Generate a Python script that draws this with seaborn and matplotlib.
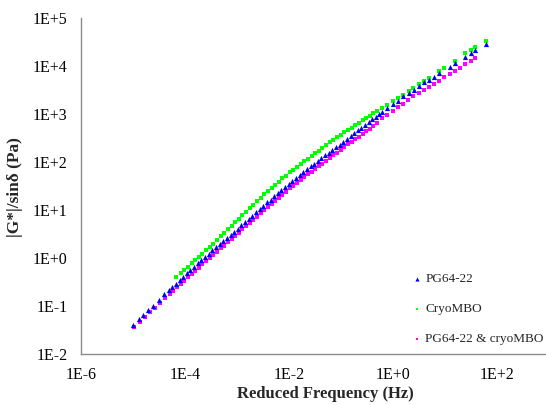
import numpy as np
import pandas as pd
import seaborn as sns
import matplotlib.pyplot as plt
from matplotlib.ticker import FuncFormatter, FixedLocator, LogLocator, NullFormatter

# values, stored as log10 (frequency in Hz, |G*|/sin(delta) in Pa)
pg_logf = [-5.00, -4.89, -4.80, -4.70, -4.61, -4.50, -4.39, -4.30, -4.24, -4.17,
           -4.10, -4.03, -3.96, -3.89, -3.82, -3.75, -3.68, -3.61, -3.54, -3.47,
           -3.40, -3.33, -3.26, -3.19, -3.12, -3.05, -2.98, -2.91, -2.84, -2.77,
           -2.70, -2.63, -2.56, -2.49, -2.42, -2.35, -2.28, -2.21, -2.14, -2.07,
           -2.00, -1.93, -1.86, -1.79, -1.72, -1.65, -1.58, -1.51, -1.44, -1.37,
           -1.30, -1.23, -1.16, -1.09, -1.02, -0.95, -0.88, -0.81, -0.74, -0.67,
           -0.60, -0.53, -0.46, -0.39, -0.32, -0.26, -0.20, -0.11, 0.01, 0.11,
           0.20, 0.31, 0.41, 0.50, 0.61, 0.70, 0.80, 0.89, 1.10, 1.20,
           1.40, 1.50, 1.59, 1.79]
pg_logg = [-1.40, -1.28, -1.19, -1.08, -0.99, -0.87, -0.76, -0.67, -0.61, -0.54,
           -0.46, -0.39, -0.32, -0.25, -0.18, -0.11, -0.05, 0.02, 0.09, 0.16,
           0.22, 0.29, 0.35, 0.42, 0.48, 0.54, 0.61, 0.68, 0.75, 0.81,
           0.88, 0.95, 1.02, 1.09, 1.16, 1.22, 1.29, 1.35, 1.42, 1.48,
           1.55, 1.61, 1.67, 1.73, 1.79, 1.85, 1.91, 1.97, 2.03, 2.08,
           2.14, 2.20, 2.25, 2.31, 2.36, 2.42, 2.48, 2.54, 2.60, 2.66,
           2.72, 2.78, 2.83, 2.89, 2.95, 3.00, 3.05, 3.12, 3.21, 3.28,
           3.37, 3.44, 3.50, 3.59, 3.66, 3.71, 3.77, 3.85, 3.99, 4.06,
           4.20, 4.27, 4.34, 4.46]

cryo_logf = [-4.17, -4.08, -4.01, -3.94, -3.87, -3.80, -3.73, -3.66, -3.59, -3.52,
             -3.45, -3.38, -3.31, -3.24, -3.17, -3.10, -3.03, -2.96, -2.89, -2.82,
             -2.75, -2.68, -2.61, -2.54, -2.47, -2.40, -2.33, -2.26, -2.19, -2.12,
             -2.05, -1.98, -1.91, -1.84, -1.77, -1.70, -1.63, -1.56, -1.49, -1.42,
             -1.35, -1.28, -1.21, -1.14, -1.07, -1.00, -0.93, -0.86, -0.79, -0.72,
             -0.65, -0.58, -0.51, -0.44, -0.37, -0.30, -0.20, -0.11, 0.01, 0.11,
             0.20, 0.31, 0.39, 0.50, 0.60, 0.70, 0.89, 0.99, 1.20, 1.39,
             1.50, 1.59, 1.79]
cryo_logg = [-0.39, -0.31, -0.25, -0.18, -0.11, -0.04, 0.03, 0.09, 0.16, 0.23,
             0.30, 0.37, 0.45, 0.52, 0.60, 0.67, 0.75, 0.82, 0.89, 0.97,
             1.04, 1.11, 1.19, 1.26, 1.33, 1.39, 1.46, 1.52, 1.59, 1.66,
             1.72, 1.79, 1.84, 1.90, 1.96, 2.02, 2.07, 2.13, 2.19, 2.24,
             2.30, 2.35, 2.41, 2.46, 2.52, 2.57, 2.62, 2.67, 2.72, 2.77,
             2.82, 2.87, 2.92, 2.97, 3.02, 3.06, 3.12, 3.19, 3.28, 3.34,
             3.40, 3.49, 3.54, 3.62, 3.69, 3.75, 3.90, 3.97, 4.11, 4.27,
             4.34, 4.39, 4.53]

blend_logf = [-4.97, -4.87, -4.77, -4.67, -4.58, -4.48, -4.38, -4.29, -4.22, -4.15,
              -4.08, -4.01, -3.94, -3.87, -3.80, -3.73, -3.66, -3.59, -3.52, -3.45,
              -3.38, -3.31, -3.24, -3.17, -3.10, -3.03, -2.96, -2.89, -2.82, -2.75,
              -2.68, -2.61, -2.54, -2.47, -2.40, -2.33, -2.26, -2.19, -2.12, -2.05,
              -1.98, -1.91, -1.84, -1.77, -1.70, -1.63, -1.56, -1.49, -1.42, -1.35,
              -1.28, -1.21, -1.14, -1.07, -1.00, -0.93, -0.86, -0.79, -0.72, -0.65,
              -0.58, -0.51, -0.44, -0.37, -0.30, -0.20, -0.11, 0.01, 0.11, 0.20,
              0.30, 0.39, 0.50, 0.60, 0.70, 0.80, 0.89, 0.99, 1.10, 1.20,
              1.29, 1.40, 1.50, 1.59]
blend_logg = [-1.43, -1.33, -1.23, -1.13, -1.04, -0.94, -0.84, -0.75, -0.68, -0.61,
              -0.54, -0.47, -0.40, -0.34, -0.27, -0.20, -0.13, -0.07, 0.00, 0.07,
              0.13, 0.20, 0.26, 0.33, 0.40, 0.46, 0.53, 0.60, 0.66, 0.73,
              0.80, 0.86, 0.93, 1.00, 1.06, 1.13, 1.19, 1.26, 1.32, 1.38,
              1.45, 1.51, 1.57, 1.63, 1.69, 1.75, 1.80, 1.86, 1.92, 1.97,
              2.03, 2.09, 2.14, 2.20, 2.26, 2.31, 2.37, 2.42, 2.48, 2.53,
              2.59, 2.64, 2.70, 2.75, 2.81, 2.91, 2.98, 3.07, 3.14, 3.21,
              3.30, 3.37, 3.44, 3.50, 3.57, 3.63, 3.70, 3.77, 3.84, 3.91,
              3.96, 4.04, 4.11, 4.18]

pg = pd.DataFrame({"f": np.power(10.0, pg_logf), "g": np.power(10.0, pg_logg)})
cryo = pd.DataFrame({"f": np.power(10.0, cryo_logf), "g": np.power(10.0, cryo_logg)})
blend = pd.DataFrame({"f": np.power(10.0, blend_logf), "g": np.power(10.0, blend_logg)})

sns.set_style("white")
plt.rcParams["font.family"] = ["Liberation Serif", "DejaVu Serif"]

fig = plt.figure(figsize=(5.46, 4.05), dpi=100)
ax = fig.add_axes([0.148, 0.126, 0.852, 0.829])
ax.set_xscale("log")
ax.set_yscale("log")

# green first, then magenta, blue triangles on top
sns.scatterplot(data=cryo, x="f", y="g", marker="s", s=5, color="#00ff00",
                linewidth=0, ax=ax, label="CryoMBO")
sns.scatterplot(data=blend, x="f", y="g", marker="s", s=5, color="#ff00ff",
                linewidth=0, ax=ax, label="PG64-22 & cryoMBO")
sns.scatterplot(data=pg, x="f", y="g", marker="^", s=14, color="#0000ff",
                linewidth=0, ax=ax, label="PG64-22")

ax.set_xlim(1e-6, 10 ** 2.95)
ax.set_ylim(1e-2, 1e5)

fmt = FuncFormatter(lambda v, p: "1E%+d" % int(round(np.log10(v))))
ax.xaxis.set_major_locator(FixedLocator([1e-6, 1e-4, 1e-2, 1e0, 1e2]))
ax.xaxis.set_minor_locator(FixedLocator([k * 10.0 ** e for e in (-5, -3, -1, 1)
                                         for k in range(1, 10)]))
ax.yaxis.set_major_locator(LogLocator(base=10, numticks=20))
ax.yaxis.set_minor_locator(LogLocator(base=10, subs=np.arange(2, 10), numticks=20))
ax.xaxis.set_major_formatter(fmt)
ax.yaxis.set_major_formatter(fmt)
ax.xaxis.set_minor_formatter(NullFormatter())
ax.yaxis.set_minor_formatter(NullFormatter())

grey = "#8c8c8c"
for side in ["top", "right"]:
    ax.spines[side].set_visible(False)
for side in ["left", "bottom"]:
    ax.spines[side].set_color(grey)
    ax.spines[side].set_linewidth(1.0)
ax.tick_params(which="major", direction="inout", length=5, width=0.8, color=grey,
               labelsize=11.5, pad=7, labelcolor="black")
ax.tick_params(which="minor", direction="in", length=3, width=0.7, color=grey,
               labelbottom=False, labelleft=False)

ax.set_xlabel("Reduced Frequency (Hz)", fontsize=12, fontweight="bold")
ax.set_ylabel("|G*|/sinδ (Pa)", fontsize=12.5, fontweight="bold")
ax.xaxis.set_label_coords(0.525, -0.095)
ax.yaxis.set_label_coords(-0.124, 0.497)

handles, labels = ax.get_legend_handles_labels()
order = [labels.index("PG64-22"), labels.index("CryoMBO"), labels.index("PG64-22 & cryoMBO")]
ax.legend([handles[i] for i in order], [labels[i] for i in order],
          loc="center left", bbox_to_anchor=(0.745, 0.237), bbox_transform=fig.transFigure,
          frameon=False, fontsize=9.5, handlelength=0.6, handletextpad=0.3,
          labelspacing=1.35, borderpad=0, markerscale=0.8)

fig.savefig("out.png", dpi=100)
